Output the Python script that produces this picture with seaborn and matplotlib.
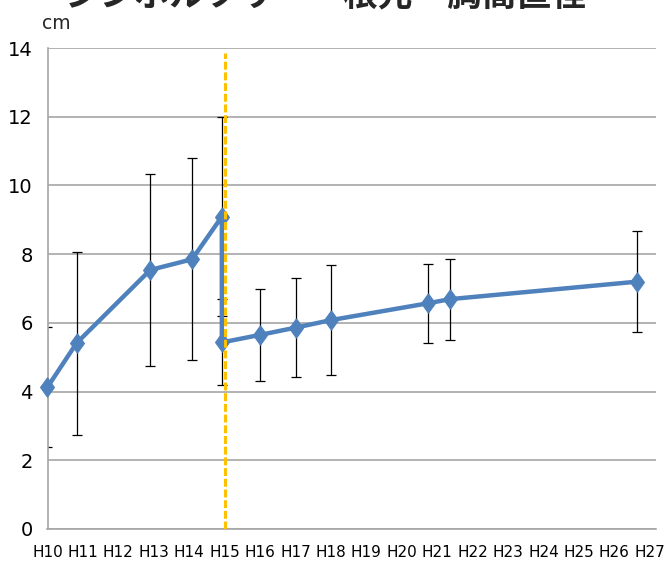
import numpy as np
import pandas as pd
import matplotlib
matplotlib.use("Agg")
import matplotlib.pyplot as plt
import seaborn as sns

# Survey years (Heisei era, fractional where the survey fell mid-year)
years = [10, 10.82, 12.9, 14.08, 14.92, 14.92, 16, 17, 18, 20.74, 21.36, 26.65]
# Mean diameter (cm) and its standard deviation
means = [4.13, 5.41, 7.54, 7.85, 9.09, 5.43, 5.65, 5.86, 6.08, 6.57, 6.69, 7.20]
sds = [1.75, 2.66, 2.80, 2.94, 2.90, 1.25, 1.33, 1.45, 1.60, 1.15, 1.18, 1.48]

tick_years = list(range(10, 28))
tick_labels = [f"H{y}" for y in tick_years]
y_ticks = list(range(0, 15, 2))

title = "シンボルツリー　根元・胸高直径"
unit = "cm"
switch_year = 15

sns.set_theme(style="white")
plt.rcParams["font.family"] = ["DejaVu Sans"]

fig = plt.figure(figsize=(6.64, 5.67), dpi=100)
ax = fig.add_axes([47.5 / 664, 38 / 567, 608 / 664, 481 / 567])

df = pd.DataFrame({"year": years, "diameter": means, "sd": sds})

grey = "#A6A6A6"
blue = "#4F81BD"

ax.set_axisbelow(True)
ax.yaxis.grid(True, color=grey, linewidth=1.2)

# standard-deviation bars behind the series line
ax.errorbar(df["year"], df["diameter"], yerr=df["sd"], fmt="none",
            ecolor="black", elinewidth=0.9, capsize=3.6, capthick=0.9, zorder=2)

diamond = [(0, 1), (0.72, 0), (0, -1), (-0.72, 0), (0, 1)]
sns.lineplot(data=df, x="year", y="diameter", sort=False, estimator=None,
             color=blue, linewidth=3.2, marker=diamond, markersize=14,
             markeredgecolor=blue, markerfacecolor=blue, ax=ax, zorder=3,
             clip_on=False)

# boundary year marker
ax.vlines(switch_year, 0, 13.85, colors="#FFC000", linewidth=2.2,
          linestyles=(0, (2.6, 0.9)), zorder=4)

ax.set_xlim(10, 27.16)
ax.set_ylim(0, 14)
ax.set_xticks(tick_years)
ax.set_xticklabels(tick_labels)
ax.set_yticks(y_ticks)
ax.set_xlabel("")
ax.set_ylabel("")

for side in ("top", "right"):
    ax.spines[side].set_visible(False)
for side in ("left", "bottom"):
    ax.spines[side].set_color(grey)
    ax.spines[side].set_linewidth(1.2)

ax.tick_params(axis="both", direction="out", length=6.5, width=1.1,
               color=grey, labelcolor="black", labelsize=14, pad=4)
ax.tick_params(axis="x", labelsize=11, pad=5)

fig.text(42 / 664, 1 - 29 / 567, unit, fontsize=13.5, va="baseline")
fig.text(0.49, 1 - 6 / 567, title, fontsize=25, fontweight="bold",
         family=["Noto Sans CJK JP", "DejaVu Sans"], ha="center", va="baseline")

fig.savefig("out.png", dpi=100)
